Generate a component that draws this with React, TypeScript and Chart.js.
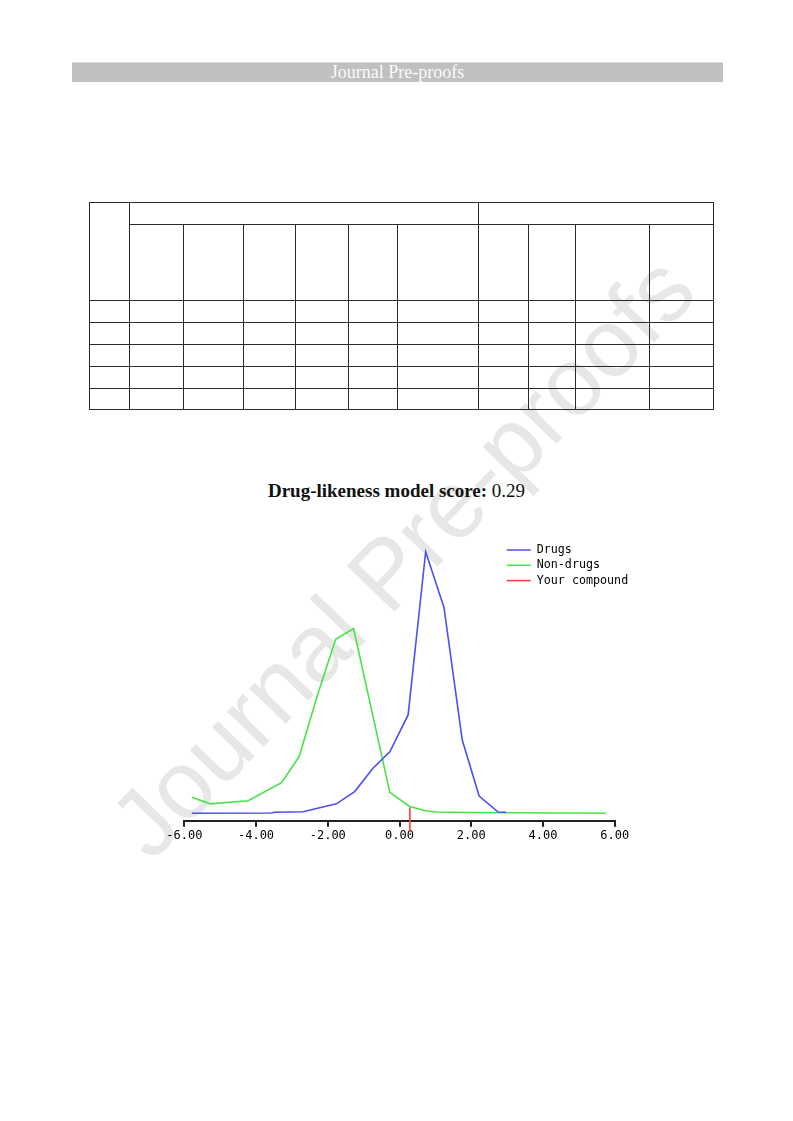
import React, { useEffect, useRef } from "react";
import { Chart, registerables } from "chart.js";

Chart.register(...registerables);

// ---- data ----
const xTickValues = [-6, -4, -2, 0, 2, 4, 6];
const seriesLabels = ["Drugs", "Non-drugs", "Your compound"];

const drugsX = [-5.79, -3.57, -3.48, -2.69, -1.76, -1.25, -0.74, -0.27, 0.24, 0.73, 1.24, 1.75, 2.22, 2.75, 2.97];
const drugsY = [0.0, 0.001, 0.004, 0.006, 0.036, 0.083, 0.172, 0.235, 0.376, 1.0, 0.787, 0.28, 0.066, 0.005, 0.004];

const nonDrugsX = [-5.79, -5.27, -4.22, -3.29, -2.8, -2.27, -1.78, -1.28, -0.27, 0.27, 0.72, 1.03, 1.96, 5.75];
const nonDrugsY = [0.061, 0.036, 0.048, 0.117, 0.216, 0.459, 0.665, 0.706, 0.08, 0.027, 0.01, 0.005, 0.003, 0.0];

const compoundScore = 0.29;
const compoundX = [0.29, 0.29];
const compoundY = [0.023, -0.072];

const tableColWidths = [40, 54, 60, 52, 53, 49, 81, 50, 47, 74, 64];
const tableRowHeights = [22, 76, 22, 22, 22, 22, 21];

const toPoints = (xs: number[], ys: number[]) => xs.map((x, i) => ({ x, y: ys[i] }));

const cornerLegend = {
  id: "cornerLegend",
  afterDraw(chart: any) {
    const { ctx, chartArea } = chart;
    const x0 = chartArea.right - 108;
    let y = chartArea.top + 10;
    ctx.save();
    ctx.font = '11.7px "DejaVu Sans Mono"';
    ctx.textBaseline = "middle";
    ctx.textAlign = "left";
    chart.data.datasets.forEach((ds: any) => {
      ctx.strokeStyle = ds.borderColor;
      ctx.lineWidth = 1.5;
      ctx.beginPath();
      ctx.moveTo(x0, y);
      ctx.lineTo(x0 + 24, y);
      ctx.stroke();
      ctx.fillStyle = "#000";
      ctx.fillText(ds.label, x0 + 30, y);
      y += 15.3;
    });
    ctx.restore();
  },
};

function DrugChart() {
  const ref = useRef<HTMLCanvasElement | null>(null);
  useEffect(() => {
    if (!ref.current) return;
    const chart = new Chart(ref.current, {
      type: "line",
      data: {
        datasets: [
          {
            label: seriesLabels[0],
            data: toPoints(drugsX, drugsY),
            borderColor: "rgb(78,78,245)",
            borderWidth: 1.6,
            pointRadius: 0,
            tension: 0,
            fill: false,
          },
          {
            label: seriesLabels[1],
            data: toPoints(nonDrugsX, nonDrugsY),
            borderColor: "rgb(70,228,70)",
            borderWidth: 1.6,
            pointRadius: 0,
            tension: 0,
            fill: false,
          },
          {
            label: seriesLabels[2],
            data: toPoints(compoundX, compoundY),
            borderColor: "rgb(255,60,60)",
            borderWidth: 1.6,
            pointRadius: 0,
            tension: 0,
            fill: false,
            clip: false as any,
          },
        ],
      },
      options: {
        animation: false,
        responsive: false,
        devicePixelRatio: 1,
        layout: { padding: { left: 34.3, right: 35.3, top: 10, bottom: 14.3 } },
        plugins: { legend: { display: false }, tooltip: { enabled: false }, title: { display: false } },
        scales: {
          x: {
            type: "linear",
            min: xTickValues[0],
            max: xTickValues[xTickValues.length - 1],
            afterBuildTicks: (scale: any) => {
              scale.ticks = xTickValues.map((v) => ({ value: v }));
            },
            afterFit: (scale: any) => {
              scale.height = 25;
            },
            ticks: {
              color: "#000",
              font: { family: '"DejaVu Sans Mono"', size: 12 },
              padding: 2,
              maxRotation: 0,
              autoSkip: false,
              callback: (v: any) => Number(v).toFixed(2),
            },
            grid: {
              display: true,
              drawOnChartArea: false,
              drawTicks: true,
              tickLength: 6,
              color: "#222",
              lineWidth: 2,
            },
            border: { display: true, color: "#222", width: 2 },
          },
          y: {
            type: "linear",
            display: false,
            min: -0.0283,
            max: 1.0447,
          },
        },
      },
      plugins: [cornerLegend],
    } as any);
    return () => chart.destroy();
  }, []);
  return (
    <canvas
      ref={ref}
      width={500}
      height={330}
      style={{ position: "absolute", left: 150, top: 530, width: 500, height: 330 }}
    />
  );
}

export default function App() {
  const cellBorder = "1px solid #2a2a2a";
  const tdStyle: React.CSSProperties = { border: cellBorder, padding: 0 };
  const bodyRows = tableRowHeights.slice(2);
  return (
    <div
      style={{
        position: "absolute",
        left: 0,
        top: 0,
        width: 793,
        height: 1121,
        overflow: "hidden",
        background: "#fff",
        fontFamily: '"Liberation Serif", serif',
      }}
    >
      {/* watermark */}
      <div
        style={{
          position: "absolute",
          left: 402,
          top: 556,
          transform: "translate(-50%, -50%) rotate(-46deg)",
          fontFamily: '"Liberation Sans", Arial, sans-serif',
          fontSize: 96,
          color: "#e7e7e7",
          whiteSpace: "nowrap",
          zIndex: 0,
        }}
      >
        Journal Pre-proofs
      </div>

      {/* header bar */}
      <div
        style={{
          position: "absolute",
          left: 72,
          top: 62,
          width: 651,
          height: 20,
          background: "#c0c0c0",
          borderTop: "1px solid #dcdcdc",
          boxSizing: "border-box",
          color: "#fafafa",
          fontSize: 18,
          lineHeight: "19px",
          textAlign: "center",
          zIndex: 1,
        }}
      >
        Journal Pre-proofs
      </div>

      {/* empty table */}
      <table
        style={{
          position: "absolute",
          left: 89,
          top: 202,
          width: 625,
          borderCollapse: "collapse",
          tableLayout: "fixed",
          zIndex: 1,
        }}
      >
        <colgroup>
          {tableColWidths.map((w, i) => (
            <col key={i} style={{ width: w }} />
          ))}
        </colgroup>
        <tbody>
          <tr style={{ height: tableRowHeights[0] }}>
            <td rowSpan={2} style={tdStyle}></td>
            <td colSpan={6} style={tdStyle}></td>
            <td colSpan={4} style={tdStyle}></td>
          </tr>
          <tr style={{ height: tableRowHeights[1] }}>
            {tableColWidths.slice(1).map((_, i) => (
              <td key={i} style={tdStyle}></td>
            ))}
          </tr>
          {bodyRows.map((h, r) => (
            <tr key={r} style={{ height: h }}>
              {tableColWidths.map((_, i) => (
                <td key={i} style={tdStyle}></td>
              ))}
            </tr>
          ))}
        </tbody>
      </table>

      {/* chart title */}
      <div
        style={{
          position: "absolute",
          left: 0,
          top: 481,
          width: 793,
          textAlign: "center",
          fontSize: 19,
          lineHeight: "19px",
          color: "#111",
          zIndex: 1,
        }}
      >
        <b>Drug-likeness model score:</b> {compoundScore.toFixed(2)}
      </div>

      <div style={{ position: "absolute", left: 0, top: 0, zIndex: 1 }}>
        <DrugChart />
      </div>
    </div>
  );
}
